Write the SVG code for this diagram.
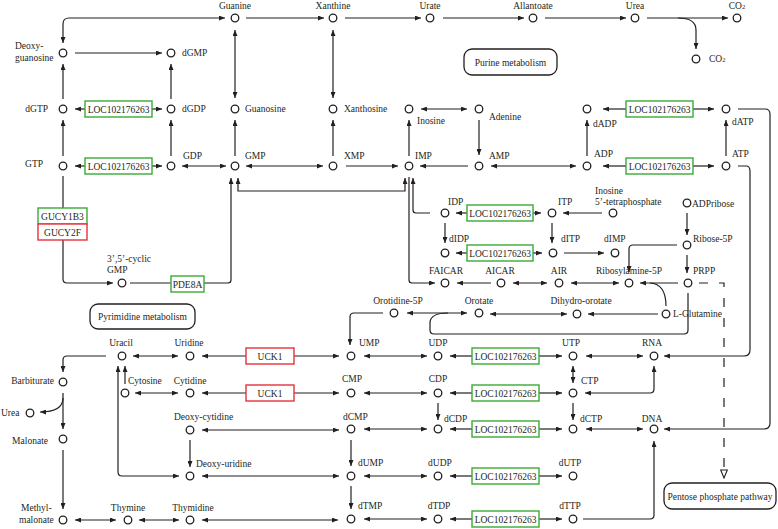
<svg xmlns="http://www.w3.org/2000/svg" width="778" height="529" viewBox="0 0 778 529">
<style>
text{font-family:"Liberation Serif","Times New Roman",serif;font-size:9.5px;fill:#231f20}
.m{text-anchor:middle}
.e{text-anchor:end}
.n circle{fill:#fff;stroke:#231f20;stroke-width:1.3}
.c path{fill:none;stroke:#231f20;stroke-width:1.2}
.c .a{marker-end:url(#ah)}
.c .b{marker-start:url(#ah);marker-end:url(#ah)}
.c .d{stroke-dasharray:9 11;marker-end:url(#oh)}
.g rect{fill:#fff;stroke:#3aaa35;stroke-width:1.4}
.r rect{fill:#fff;stroke:#e5323a;stroke-width:1.4}
.p rect{fill:#fff;stroke:#231f20;stroke-width:1.3}
</style>
<defs>
<marker id="ah" viewBox="0 0 6 5" refX="6" refY="2.5" markerWidth="6" markerHeight="5" markerUnits="userSpaceOnUse" orient="auto-start-reverse"><path d="M0,0 L6,2.5 L0,5 z" fill="#231f20"/></marker>
<marker id="oh" viewBox="0 0 10 8" refX="9" refY="4" markerWidth="10" markerHeight="8" markerUnits="userSpaceOnUse" orient="auto"><path d="M1,0.7 L9,4 L1,7.3 z" fill="#fff" stroke="#231f20" stroke-width="1.1"/></marker>
</defs>
<rect width="778" height="529" fill="#fff"/>

<g id="connectors" class="c">
<path class="a" d="M246,18 L324,18"/>
<path class="a" d="M345,18 L421,18"/>
<path class="a" d="M443,18 L524,18"/>
<path class="a" d="M545,18 L626,18"/>
<path class="a" d="M647,18 L728,18"/>
<path class="a" d="M678,18 C690,18 696,22 696,30 L696,49"/>
<path class="b" d="M63,43 L63,24 Q63,18 69,18 L225,18"/>
<path class="a" d="M75,53 L162,53"/>
<path class="a" d="M63,99 L63,64"/>
<path class="a" d="M63,156 L63,120"/>
<path class="a" d="M171,99 L171,64"/>
<path class="a" d="M171,156 L171,120"/>
<path class="a" d="M85,109 L75,109"/>
<path class="a" d="M152,109 L162,109"/>
<path class="a" d="M85,166 L75,166"/>
<path class="a" d="M152,166 L162,166"/>
<path class="b" d="M182,166 L226,166"/>
<path class="b" d="M235,30 L235,98"/>
<path class="a" d="M235,156 L235,120"/>
<path class="b" d="M246,166 L323,166"/>
<path class="a" d="M346,166 L398,166"/>
<path class="a" d="M468,166 L420,166"/>
<path class="b" d="M491,166 L576,166"/>
<path class="b" d="M333,30 L333,98"/>
<path class="a" d="M333,156 L333,120"/>
<path class="a" d="M409,156 L409,120"/>
<path class="b" d="M421,109 L467,109"/>
<path class="a" d="M479,120 L479,155"/>
<path class="a" d="M587,156 L587,120"/>
<path class="a" d="M726,156 L726,120"/>
<path class="a" d="M626,109 L603,109"/>
<path class="a" d="M693,109 L714,109"/>
<path class="a" d="M626,166 L603,166"/>
<path class="a" d="M693,166 L714,166"/>
<path class="a" d="M738,166 L746,166 Q750,166 750,171 L750,350 Q750,356 744,356 L664,356"/>
<path class="a" d="M738,109 L765,109 Q770,109 770,114 L770,423 Q770,429 764,429 L664,429"/>
<path class="b" d="M405,178 L405,191 L238,191 L238,178"/>
<path class="a" d="M204,283 L228,283 Q231,283 231,280 L231,178"/>
<path d="M130,283 L171,283"/>
<path d="M63,176 L63,208"/>
<path class="a" d="M63,240 L63,279 Q63,283 67,283 L113,283"/>
<path class="a" d="M430,213 L416,213 Q413,213 413,210 L413,178"/>
<path class="a" d="M409,177 L409,280 Q409,283 412,283 L435,283"/>
<path class="a" d="M467,213 L456,213"/>
<path class="a" d="M533,213 L541,213"/>
<path class="a" d="M602,213 L563,213"/>
<path class="a" d="M445,223 L445,243"/>
<path class="a" d="M552,223 L552,243"/>
<path class="a" d="M467,253 L456,253"/>
<path class="a" d="M533,253 L542,253"/>
<path class="a" d="M564,253 L604,253"/>
<path class="a" d="M491,283 L457,283"/>
<path class="b" d="M513,283 L547,283"/>
<path class="b" d="M571,283 L619,283"/>
<path class="a" d="M678,283 L640,283"/>
<path d="M666,306 Q666,284 650,283"/>
<path class="a" d="M687,213 L687,235"/>
<path class="a" d="M687,255 L687,273"/>
<path class="a" d="M677,245 L633,245 Q629,245 629,249 L629,272"/>
<path class="a" d="M658,314 L588,314"/>
<path class="b" d="M567,314 L490,314"/>
<path class="b" d="M407,313 L467,313"/>
<path class="a" d="M383,313 L354,313 Q350,313 350,317 L350,345"/>
<path d="M688,293 L688,330 Q688,334 684,334 L434,334 Q430,334 430,330 L430,323 Q430,313 448,313"/>
<path class="d" d="M699,283 L724,283 L724,478"/>
<path class="a" d="M472,356 L450,356"/>
<path class="a" d="M539,356 L562,356"/>
<path class="a" d="M472,393 L450,393"/>
<path class="a" d="M539,393 L562,393"/>
<path class="a" d="M472,429 L450,429"/>
<path class="a" d="M539,429 L562,429"/>
<path class="a" d="M472,476 L450,476"/>
<path class="a" d="M539,476 L562,476"/>
<path class="a" d="M472,519 L450,519"/>
<path class="a" d="M539,519 L562,519"/>
<path class="a" d="M294,356 L339,356"/>
<path class="a" d="M246,356 L202,356"/>
<path class="a" d="M294,393 L339,393"/>
<path class="a" d="M246,393 L202,393"/>
<path class="b" d="M364,356 L427,356"/>
<path class="b" d="M364,393 L427,393"/>
<path class="b" d="M364,429 L427,429"/>
<path class="b" d="M364,476 L427,476"/>
<path class="b" d="M364,519 L427,519"/>
<path class="a" d="M438,403 L438,420"/>
<path class="a" d="M351,440 L351,466"/>
<path class="a" d="M351,486 L351,509"/>
<path class="b" d="M586,356 L643,356"/>
<path class="b" d="M573,366 L573,383"/>
<path class="b" d="M585,393 L650,393 Q654,393 654,389 L654,366"/>
<path class="a" d="M573,403 L573,420"/>
<path class="b" d="M586,429 L643,429"/>
<path class="a" d="M583,519 L650,519 Q654,519 654,515 L654,441"/>
<path class="b" d="M133,356 L178,356"/>
<path class="a" d="M106,356 L67,356 Q63,356 63,360 L63,372"/>
<path class="a" d="M63,393 L63,429"/>
<path class="a" d="M63,398 C63,408 55,412 40,412"/>
<path class="a" d="M63,450 L63,509"/>
<path class="b" d="M75,520 L116,520"/>
<path class="b" d="M139,520 L179,520"/>
<path class="b" d="M202,520 L338,520"/>
<path class="b" d="M135,393 L178,393"/>
<path class="a" d="M125,384 L125,366"/>
<path class="b" d="M118,366 L118,472 Q118,476 122,476 L179,476"/>
<path class="a" d="M190,440 L190,467"/>
<path class="b" d="M202,430 L339,430"/>
<path class="b" d="M202,476 L339,476"/>
</g>

<g id="guanine" class="n"><circle cx="235" cy="18" r="3.8"/><text class="m" x="235" y="9">Guanine</text></g>
<g id="xanthine" class="n"><circle cx="333" cy="18" r="3.8"/><text class="m" x="333" y="9">Xanthine</text></g>
<g id="urate" class="n"><circle cx="430" cy="18" r="3.8"/><text class="m" x="430" y="9">Urate</text></g>
<g id="allantoate" class="n"><circle cx="533" cy="18" r="3.8"/><text class="m" x="533" y="9">Allantoate</text></g>
<g id="urea1" class="n"><circle cx="635" cy="18" r="3.8"/><text class="m" x="635" y="9">Urea</text></g>
<g id="co2a" class="n"><circle cx="737" cy="18" r="3.8"/><text class="m" x="737" y="9">CO<tspan font-size="6.5">2</tspan></text></g>
<g id="co2b" class="n"><circle cx="696" cy="59" r="3.8"/><text x="709" y="62">CO<tspan font-size="6.5">2</tspan></text></g>
<g id="deoxyguanosine" class="n"><circle cx="63" cy="53" r="3.8"/><text x="15" y="49">Deoxy-</text><text x="15" y="61">guanosine</text></g>
<g id="dgmp" class="n"><circle cx="171" cy="53" r="3.8"/><text x="182" y="56">dGMP</text></g>
<g id="dgtp" class="n"><circle cx="63" cy="109" r="3.8"/><text class="e" x="48" y="112">dGTP</text></g>
<g id="dgdp" class="n"><circle cx="171" cy="109" r="3.8"/><text x="182" y="112">dGDP</text></g>
<g id="guanosine" class="n"><circle cx="235" cy="109" r="3.8"/><text x="245" y="112">Guanosine</text></g>
<g id="gtp" class="n"><circle cx="63" cy="166" r="3.8"/><text class="e" x="43" y="167">GTP</text></g>
<g id="gdp" class="n"><circle cx="171" cy="166" r="3.8"/><text x="183" y="159">GDP</text></g>
<g id="gmp" class="n"><circle cx="235" cy="166" r="3.8"/><text x="245" y="159">GMP</text></g>
<g id="xanthosine" class="n"><circle cx="333" cy="109" r="3.8"/><text x="344" y="112">Xanthosine</text></g>
<g id="xmp" class="n"><circle cx="333" cy="166" r="3.8"/><text x="344" y="159">XMP</text></g>
<g id="inosine" class="n"><circle cx="409" cy="109" r="3.8"/><text x="417" y="124">Inosine</text></g>
<g id="imp" class="n"><circle cx="409" cy="166" r="3.8"/><text x="415" y="159">IMP</text></g>
<g id="adenine" class="n"><circle cx="479" cy="109" r="3.8"/><text x="489" y="120">Adenine</text></g>
<g id="amp" class="n"><circle cx="479" cy="166" r="3.8"/><text x="489" y="159">AMP</text></g>
<g id="dadp" class="n"><circle cx="587" cy="109" r="3.8"/><text x="593" y="127">dADP</text></g>
<g id="adp" class="n"><circle cx="587" cy="166" r="3.8"/><text x="594" y="157">ADP</text></g>
<g id="datp" class="n"><circle cx="726" cy="109" r="3.8"/><text x="732" y="125">dATP</text></g>
<g id="atp" class="n"><circle cx="726" cy="166" r="3.8"/><text x="732" y="157">ATP</text></g>
<g id="cgmp" class="n"><circle cx="122" cy="283" r="3.8"/><text x="107" y="262">3’,5’-cyclic</text><text x="107" y="273">GMP</text></g>
<g id="idp" class="n"><circle cx="445" cy="213" r="3.8"/><text x="448" y="205">IDP</text></g>
<g id="itp" class="n"><circle cx="552" cy="213" r="3.8"/><text x="558" y="205">ITP</text></g>
<g id="inosine5tp" class="n"><circle cx="613" cy="213" r="3.8"/><text x="595" y="194">Inosine</text><text x="595" y="205">5’-tetraphosphate</text></g>
<g id="didp" class="n"><circle cx="445" cy="253" r="3.8"/><text x="449" y="242">dIDP</text></g>
<g id="ditp" class="n"><circle cx="553" cy="253" r="3.8"/><text x="561" y="242">dITP</text></g>
<g id="dimp" class="n"><circle cx="615" cy="253" r="3.8"/><text x="604" y="242">dIMP</text></g>
<g id="adpribose" class="n"><circle cx="687" cy="203" r="3.8"/><text x="692" y="207">ADPribose</text></g>
<g id="ribose5p" class="n"><circle cx="687" cy="245" r="3.8"/><text x="693" y="242">Ribose-5P</text></g>
<g id="faicar" class="n"><circle cx="445" cy="283" r="3.8"/><text class="m" x="446" y="274">FAICAR</text></g>
<g id="aicar" class="n"><circle cx="501" cy="283" r="3.8"/><text class="m" x="500" y="274">AICAR</text></g>
<g id="air" class="n"><circle cx="559" cy="283" r="3.8"/><text class="m" x="559" y="274">AIR</text></g>
<g id="ribosylamine5p" class="n"><circle cx="629" cy="283" r="3.8"/><text class="m" x="629" y="274">Ribosylamine-5P</text></g>
<g id="prpp" class="n"><circle cx="688" cy="283" r="3.8"/><text x="693" y="274">PRPP</text></g>
<g id="lglutamine" class="n"><circle cx="666" cy="314" r="3.8"/><text x="673" y="317">L-Glutamine</text></g>
<g id="dihydroorotate" class="n"><circle cx="577" cy="314" r="3.8"/><text class="m" x="581" y="304">Dihydro-orotate</text></g>
<g id="orotate" class="n"><circle cx="479" cy="313" r="3.8"/><text class="m" x="479" y="304">Orotate</text></g>
<g id="orotidine5p" class="n"><circle cx="394" cy="313" r="3.8"/><text class="m" x="398" y="304">Orotidine-5P</text></g>

<g id="uracil" class="n"><circle cx="122" cy="356" r="3.8"/><text class="m" x="121" y="346">Uracil</text></g>
<g id="uridine" class="n"><circle cx="190" cy="356" r="3.8"/><text class="m" x="189" y="346">Uridine</text></g>
<g id="ump" class="n"><circle cx="351" cy="356" r="3.8"/><text x="359" y="346">UMP</text></g>
<g id="udp" class="n"><circle cx="438" cy="356" r="3.8"/><text class="m" x="438" y="346">UDP</text></g>
<g id="utp" class="n"><circle cx="573" cy="356" r="3.8"/><text class="m" x="571" y="346">UTP</text></g>
<g id="rna" class="n"><circle cx="654" cy="356" r="3.8"/><text class="m" x="652" y="346">RNA</text></g>
<g id="barbiturate" class="n"><circle cx="63" cy="382" r="3.8"/><text class="e" x="54" y="384">Barbiturate</text></g>
<g id="cytosine" class="n"><circle cx="125" cy="393" r="3.8"/><text x="128" y="384">Cytosine</text></g>
<g id="cytidine" class="n"><circle cx="190" cy="393" r="3.8"/><text class="m" x="190" y="384">Cytidine</text></g>
<g id="cmp" class="n"><circle cx="351" cy="393" r="3.8"/><text class="m" x="352" y="382">CMP</text></g>
<g id="cdp" class="n"><circle cx="438" cy="393" r="3.8"/><text class="m" x="438" y="382">CDP</text></g>
<g id="ctp" class="n"><circle cx="573" cy="393" r="3.8"/><text x="581" y="384">CTP</text></g>
<g id="urea2" class="n"><circle cx="30" cy="413" r="3.8"/><text x="1" y="416">Urea</text></g>
<g id="deoxycytidine" class="n"><circle cx="190" cy="430" r="3.8"/><text x="174" y="420">Deoxy-cytidine</text></g>
<g id="dcmp" class="n"><circle cx="351" cy="429" r="3.8"/><text x="343" y="420">dCMP</text></g>
<g id="dcdp" class="n"><circle cx="438" cy="429" r="3.8"/><text x="444" y="422">dCDP</text></g>
<g id="dctp" class="n"><circle cx="573" cy="429" r="3.8"/><text x="580" y="422">dCTP</text></g>
<g id="dna" class="n"><circle cx="654" cy="429" r="3.8"/><text class="m" x="652" y="422">DNA</text></g>
<g id="malonate" class="n"><circle cx="63" cy="439" r="3.8"/><text class="e" x="48" y="444">Malonate</text></g>
<g id="deoxyuridine" class="n"><circle cx="190" cy="476" r="3.8"/><text x="196" y="467">Deoxy-uridine</text></g>
<g id="dump" class="n"><circle cx="351" cy="476" r="3.8"/><text x="358" y="466">dUMP</text></g>
<g id="dudp" class="n"><circle cx="438" cy="476" r="3.8"/><text class="m" x="440" y="466">dUDP</text></g>
<g id="dutp" class="n"><circle cx="573" cy="476" r="3.8"/><text class="m" x="570" y="466">dUTP</text></g>
<g id="methylmalonate" class="n"><circle cx="63" cy="520" r="3.8"/><text x="21" y="511">Methyl-</text><text x="19" y="523">malonate</text></g>
<g id="thymine" class="n"><circle cx="128" cy="520" r="3.8"/><text class="m" x="128" y="511">Thymine</text></g>
<g id="thymidine" class="n"><circle cx="190" cy="520" r="3.8"/><text class="m" x="193" y="511">Thymidine</text></g>
<g id="dtmp" class="n"><circle cx="351" cy="519" r="3.8"/><text x="358" y="509">dTMP</text></g>
<g id="dtdp" class="n"><circle cx="438" cy="519" r="3.8"/><text class="m" x="439" y="509">dTDP</text></g>
<g id="dttp" class="n"><circle cx="573" cy="519" r="3.8"/><text class="m" x="570" y="509">dTTP</text></g>

<g id="purine-metabolism" class="p"><rect x="464" y="49" width="93" height="26" rx="8"/><text class="m" x="510.5" y="65.5">Purine metabolism</text></g>
<g id="pyrimidine-metabolism" class="p"><rect x="90" y="304" width="105" height="25" rx="8"/><text class="m" x="142.5" y="320">Pyrimidine metabolism</text></g>
<g id="pentose-phosphate" class="p"><rect x="664" y="483" width="112" height="26" rx="8"/><text class="m" x="720" y="499.5">Pentose phosphate pathway</text></g>

<g id="loc-dgtp" class="g"><rect x="85" y="101" width="67" height="16"/><text class="m" x="118.5" y="112.5">LOC102176263</text></g>
<g id="loc-gtp" class="g"><rect x="85" y="158" width="67" height="16"/><text class="m" x="118.5" y="169.5">LOC102176263</text></g>
<g id="loc-dadp" class="g"><rect x="626" y="101" width="67" height="16"/><text class="m" x="659.5" y="112.5">LOC102176263</text></g>
<g id="loc-adp" class="g"><rect x="626" y="158" width="67" height="16"/><text class="m" x="659.5" y="169.5">LOC102176263</text></g>
<g id="loc-idp" class="g"><rect x="467" y="205" width="66" height="16"/><text class="m" x="500" y="216.5">LOC102176263</text></g>
<g id="loc-didp" class="g"><rect x="467" y="245" width="66" height="16"/><text class="m" x="500" y="256.5">LOC102176263</text></g>
<g id="loc-udp" class="g"><rect x="472" y="348" width="67" height="16"/><text class="m" x="505.5" y="359.5">LOC102176263</text></g>
<g id="loc-cdp" class="g"><rect x="472" y="385" width="67" height="16"/><text class="m" x="505.5" y="396.5">LOC102176263</text></g>
<g id="loc-dcdp" class="g"><rect x="472" y="421" width="67" height="16"/><text class="m" x="505.5" y="432.5">LOC102176263</text></g>
<g id="loc-dudp" class="g"><rect x="472" y="468" width="67" height="16"/><text class="m" x="505.5" y="479.5">LOC102176263</text></g>
<g id="loc-dtdp" class="g"><rect x="472" y="511" width="67" height="16"/><text class="m" x="505.5" y="522.5">LOC102176263</text></g>
<g id="gucy1b3" class="g"><rect x="38" y="208" width="49" height="16"/><text class="m" x="62.5" y="219.5">GUCY1B3</text></g>
<g id="gucy2f" class="r"><rect x="38" y="224" width="49" height="16"/><text class="m" x="62.5" y="235.5">GUCY2F</text></g>
<g id="pde8a" class="g"><rect x="171" y="276" width="33" height="16"/><text class="m" x="187.5" y="287.5">PDE8A</text></g>
<g id="uck1-uridine" class="r"><rect x="246" y="348" width="48" height="16"/><text class="m" x="270" y="359.5">UCK1</text></g>
<g id="uck1-cytidine" class="r"><rect x="246" y="385" width="48" height="16"/><text class="m" x="270" y="396.5">UCK1</text></g>
</svg>
